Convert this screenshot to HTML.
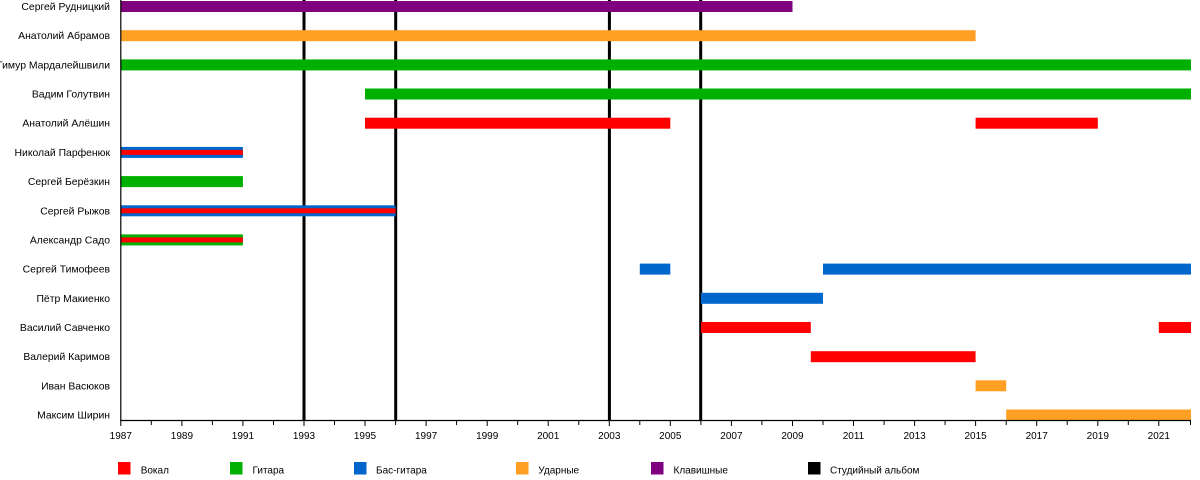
<!DOCTYPE html>
<html>
<head>
<meta charset="utf-8">
<style>
  html,body{margin:0;padding:0;background:#fff;}
  svg{display:block;}
  text{font-family:"Liberation Sans","DejaVu Sans",sans-serif;fill:#000;}
  .nm{font-size:10.4px;text-anchor:end;}
  .tk{font-size:10px;text-anchor:middle;}
  .lg{font-size:10px;}
</style>
</head>
<body>
<svg width="1200" height="480" viewBox="0 0 1200 480" xmlns="http://www.w3.org/2000/svg">
  <rect x="0" y="0" width="1200" height="480" fill="#fff"/>

  <!-- album lines -->
  <g fill="#000">
    <rect x="302.5" y="0" width="3" height="420"/>
    <rect x="394.2" y="0" width="3" height="420"/>
    <rect x="607.9" y="0" width="3" height="420"/>
    <rect x="699.2" y="0" width="3" height="420"/>
  </g>

  <!-- bars -->
  <!-- 0 Рудницкий -->
  <rect x="120.8" y="1" width="671.7" height="11" fill="#7f007f"/>
  <!-- 1 Абрамов -->
  <rect x="120.8" y="30.2" width="854.8" height="11" fill="#ffa024"/>
  <!-- 2 Мардалейшвили -->
  <rect x="120.8" y="59.4" width="1070.2" height="11" fill="#00b000"/>
  <!-- 3 Голутвин -->
  <rect x="365" y="88.5" width="826" height="11" fill="#00b000"/>
  <!-- 4 Алёшин -->
  <rect x="365" y="117.7" width="305.3" height="11" fill="#ff0000"/>
  <rect x="975.6" y="117.7" width="122.2" height="11" fill="#ff0000"/>
  <!-- 5 Парфенюк -->
  <rect x="120.8" y="146.9" width="122.1" height="11" fill="#0066cc"/>
  <rect x="120.8" y="149.9" width="122.1" height="5" fill="#ff0000"/>
  <!-- 6 Берёзкин -->
  <rect x="120.8" y="176.1" width="122.1" height="11" fill="#00b000"/>
  <!-- 7 Рыжов -->
  <rect x="120.8" y="205.3" width="274.8" height="11" fill="#0066cc"/>
  <rect x="120.8" y="208.3" width="274.8" height="5" fill="#ff0000"/>
  <!-- 8 Садо -->
  <rect x="120.8" y="234.4" width="122.1" height="11" fill="#00b000"/>
  <rect x="120.8" y="237.4" width="122.1" height="5" fill="#ff0000"/>
  <!-- 9 Тимофеев -->
  <rect x="639.8" y="263.6" width="30.5" height="11" fill="#0066cc"/>
  <rect x="823" y="263.6" width="368" height="11" fill="#0066cc"/>
  <!-- 10 Макиенко -->
  <rect x="700.9" y="292.8" width="122.1" height="11" fill="#0066cc"/>
  <!-- 11 Савченко -->
  <rect x="700.9" y="322" width="109.9" height="11" fill="#ff0000"/>
  <rect x="1158.8" y="322" width="32.2" height="11" fill="#ff0000"/>
  <!-- 12 Каримов -->
  <rect x="810.8" y="351.2" width="164.8" height="11" fill="#ff0000"/>
  <!-- 13 Васюков -->
  <rect x="975.6" y="380.3" width="30.6" height="11" fill="#ffa024"/>
  <!-- 14 Ширин -->
  <rect x="1006.2" y="409.5" width="184.8" height="11" fill="#ffa024"/>

  <!-- axes -->
  <g stroke="#000" stroke-width="1.2" fill="none">
    <line x1="120.8" y1="0" x2="120.8" y2="420.5"/>
    <line x1="120.2" y1="420.5" x2="1191" y2="420.5"/>
  </g>
  <g stroke="#000" stroke-width="1">
    <line x1="120.8" y1="420" x2="120.8" y2="426"/>
    <line x1="151.3" y1="420" x2="151.3" y2="425"/>
    <line x1="181.9" y1="420" x2="181.9" y2="426"/>
    <line x1="212.4" y1="420" x2="212.4" y2="425"/>
    <line x1="242.9" y1="420" x2="242.9" y2="426"/>
    <line x1="273.5" y1="420" x2="273.5" y2="425"/>
    <line x1="304.0" y1="420" x2="304.0" y2="426"/>
    <line x1="334.5" y1="420" x2="334.5" y2="425"/>
    <line x1="365.0" y1="420" x2="365.0" y2="426"/>
    <line x1="395.6" y1="420" x2="395.6" y2="425"/>
    <line x1="426.1" y1="420" x2="426.1" y2="426"/>
    <line x1="456.6" y1="420" x2="456.6" y2="425"/>
    <line x1="487.2" y1="420" x2="487.2" y2="426"/>
    <line x1="517.7" y1="420" x2="517.7" y2="425"/>
    <line x1="548.2" y1="420" x2="548.2" y2="426"/>
    <line x1="578.8" y1="420" x2="578.8" y2="425"/>
    <line x1="609.3" y1="420" x2="609.3" y2="426"/>
    <line x1="639.8" y1="420" x2="639.8" y2="425"/>
    <line x1="670.3" y1="420" x2="670.3" y2="426"/>
    <line x1="700.9" y1="420" x2="700.9" y2="425"/>
    <line x1="731.4" y1="420" x2="731.4" y2="426"/>
    <line x1="761.9" y1="420" x2="761.9" y2="425"/>
    <line x1="792.5" y1="420" x2="792.5" y2="426"/>
    <line x1="823.0" y1="420" x2="823.0" y2="425"/>
    <line x1="853.5" y1="420" x2="853.5" y2="426"/>
    <line x1="884.1" y1="420" x2="884.1" y2="425"/>
    <line x1="914.6" y1="420" x2="914.6" y2="426"/>
    <line x1="945.1" y1="420" x2="945.1" y2="425"/>
    <line x1="975.6" y1="420" x2="975.6" y2="426"/>
    <line x1="1006.2" y1="420" x2="1006.2" y2="425"/>
    <line x1="1036.7" y1="420" x2="1036.7" y2="426"/>
    <line x1="1067.2" y1="420" x2="1067.2" y2="425"/>
    <line x1="1097.8" y1="420" x2="1097.8" y2="426"/>
    <line x1="1128.3" y1="420" x2="1128.3" y2="425"/>
    <line x1="1158.8" y1="420" x2="1158.8" y2="426"/>
    <line x1="1190.5" y1="420" x2="1190.5" y2="425"/>
  </g>

  <!-- tick labels -->
  <g class="tk">
    <text class="tk" x="120.8" y="439">1987</text>
    <text class="tk" x="181.9" y="439">1989</text>
    <text class="tk" x="242.9" y="439">1991</text>
    <text class="tk" x="304.0" y="439">1993</text>
    <text class="tk" x="365.0" y="439">1995</text>
    <text class="tk" x="426.1" y="439">1997</text>
    <text class="tk" x="487.2" y="439">1999</text>
    <text class="tk" x="548.2" y="439">2001</text>
    <text class="tk" x="609.3" y="439">2003</text>
    <text class="tk" x="670.3" y="439">2005</text>
    <text class="tk" x="731.4" y="439">2007</text>
    <text class="tk" x="792.5" y="439">2009</text>
    <text class="tk" x="853.5" y="439">2011</text>
    <text class="tk" x="914.6" y="439">2013</text>
    <text class="tk" x="975.6" y="439">2015</text>
    <text class="tk" x="1036.7" y="439">2017</text>
    <text class="tk" x="1097.8" y="439">2019</text>
    <text class="tk" x="1158.8" y="439">2021</text>
  </g>

  <!-- names -->
  <text class="nm" x="110" y="10">Сергей Рудницкий</text>
  <text class="nm" x="110" y="39.2">Анатолий Абрамов</text>
  <text class="nm" x="110" y="68.4">Тимур Мардалейшвили</text>
  <text class="nm" x="110" y="97.5">Вадим Голутвин</text>
  <text class="nm" x="110" y="126.7">Анатолий Алёшин</text>
  <text class="nm" x="110" y="155.9">Николай Парфенюк</text>
  <text class="nm" x="110" y="185.1">Сергей Берёзкин</text>
  <text class="nm" x="110" y="214.3">Сергей Рыжов</text>
  <text class="nm" x="110" y="243.4">Александр Садо</text>
  <text class="nm" x="110" y="272.6">Сергей Тимофеев</text>
  <text class="nm" x="110" y="301.8">Пётр Макиенко</text>
  <text class="nm" x="110" y="331">Василий Савченко</text>
  <text class="nm" x="110" y="360.2">Валерий Каримов</text>
  <text class="nm" x="110" y="389.3">Иван Васюков</text>
  <text class="nm" x="110" y="418.5">Максим Ширин</text>

  <!-- legend -->
  <rect x="118" y="462" width="12.5" height="12.5" fill="#ff0000"/>
  <text class="lg" x="140.7" y="473.5">Вокал</text>
  <rect x="230" y="462" width="12.5" height="12.5" fill="#00b000"/>
  <text class="lg" x="252.5" y="473.5">Гитара</text>
  <rect x="354" y="462" width="12.5" height="12.5" fill="#0066cc"/>
  <text class="lg" x="376" y="473.5">Бас-гитара</text>
  <rect x="516" y="462" width="12.5" height="12.5" fill="#ffa024"/>
  <text class="lg" x="538.3" y="473.5">Ударные</text>
  <rect x="651" y="462" width="12.5" height="12.5" fill="#7f007f"/>
  <text class="lg" x="673.5" y="473.5">Клавишные</text>
  <rect x="808" y="462" width="12.5" height="12.5" fill="#000000"/>
  <text class="lg" x="830" y="473.5">Студийный альбом</text>
</svg>
</body>
</html>
